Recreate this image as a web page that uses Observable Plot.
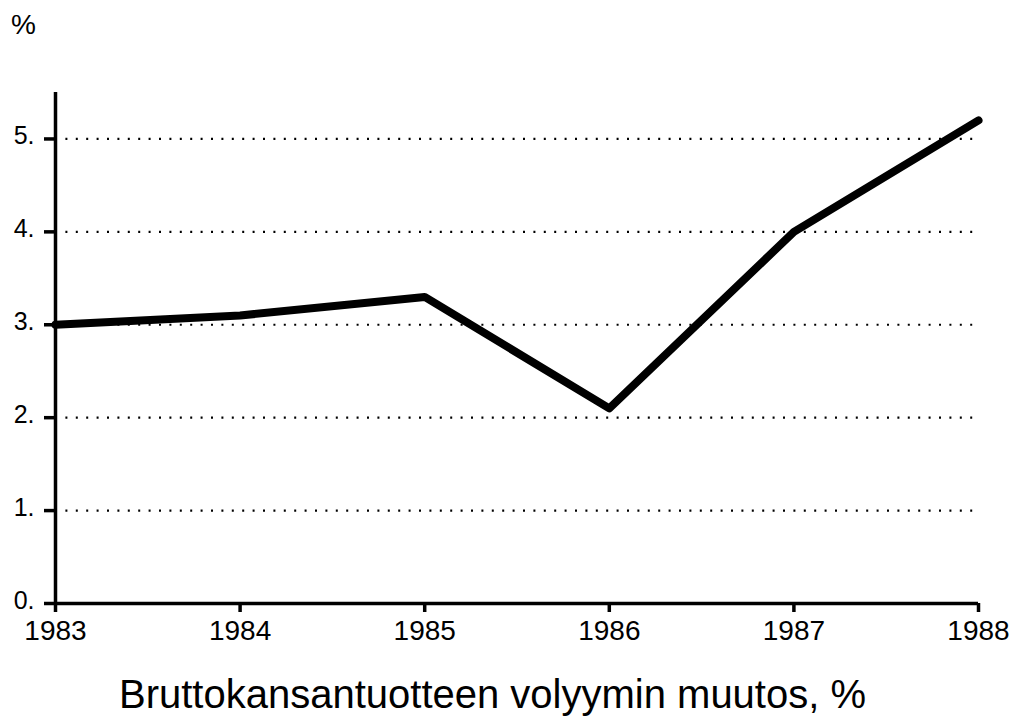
<!DOCTYPE html>
<html>
<head>
<meta charset="utf-8">
<script src="https://cdn.jsdelivr.net/npm/d3@7"></script>
<script src="https://cdn.jsdelivr.net/npm/@observablehq/plot@0.6"></script>
<style>
  body { margin: 0; background: #fff; font-family: "Liberation Sans", Arial, sans-serif; }
  #wrap { position: relative; width: 1017px; height: 725px; }
  #chart svg { display: block; }
  #unit { position: absolute; left: 11px; top: 9px; font-size: 28px; }
  #caption { width: 985px; margin-top: 26px; text-align: center; font-size: 40px; line-height: 46px; color: #000; }
</style>
</head>
<body>
<div id="wrap">
  <div id="chart"></div>
  <div id="caption">Bruttokansantuotteen volyymin muutos, %</div>
  <div id="unit">%</div>
</div>
<script>
const years = [1983, 1984, 1985, 1986, 1987, 1988];
const growth = [3.0, 3.1, 3.3, 2.1, 4.0, 5.2];
const yTicks = [0, 1, 2, 3, 4, 5];
const gridLines = [1, 2, 3, 4, 5];

const data = years.map((y, i) => ({year: y, value: growth[i]}));

const chart = Plot.plot({
  width: 1017,
  height: 645,
  marginLeft: 55,
  marginRight: 39,
  marginTop: 92,
  marginBottom: 42,
  style: {fontFamily: "Liberation Sans, Arial, sans-serif", fontSize: "26px", background: "white", color: "black"},
  x: {domain: [1983, 1988]},
  y: {domain: [0, 5.5]},
  marks: [
    Plot.ruleY(gridLines, {x1: 1983, x2: 1988, stroke: "black", strokeWidth: 2.2, strokeDasharray: "2,8.4", strokeLinecap: "butt"}),
    Plot.axisX(years, {tickSize: 9, strokeWidth: 3.5, tickFormat: d => String(d), fontSize: 28, tickPadding: 8, label: null}),
    Plot.axisY(yTicks, {tickSize: 11, strokeWidth: 3.5, tickFormat: () => "", label: null}),
    Plot.axisY(yTicks, {tickSize: 0, tickPadding: 21, tickFormat: d => d + ".", fontSize: 25, dy: -3, label: null}),
    Plot.ruleX([1983], {y1: 0, y2: 5.5, stroke: "black", strokeWidth: 3.5}),
    Plot.ruleY([0], {x1: 1983, x2: 1988, stroke: "black", strokeWidth: 3.5}),
    Plot.line(data, {x: "year", y: "value", stroke: "black", strokeWidth: 8, strokeLinejoin: "round", strokeLinecap: "round"})
  ]
});
document.getElementById("chart").appendChild(chart);
</script>
</body>
</html>
